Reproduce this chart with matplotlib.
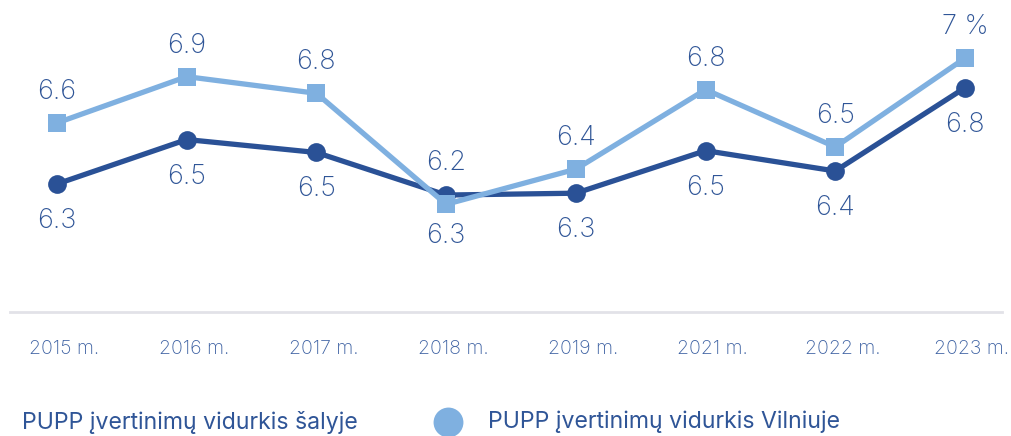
import matplotlib
matplotlib.use("Agg")
import matplotlib.pyplot as plt
from matplotlib.transforms import ScaledTranslation
from matplotlib.lines import Line2D

# --- data ---
years = ["2015 m.", "2016 m.", "2017 m.", "2018 m.", "2019 m.", "2021 m.", "2022 m.", "2023 m."]
salyje = [6.31, 6.55, 6.48, 6.25, 6.26, 6.49, 6.38, 6.83]
vilniuje = [6.64, 6.89, 6.80, 6.20, 6.39, 6.82, 6.51, 6.99]
salyje_labels = ["6.3", "6.5", "6.5", "6.2", "6.3", "6.5", "6.4", "6.8"]
vilniuje_labels = ["6.6", "6.9", "6.8", "6.3", "6.4", "6.8", "6.5", "7 %"]
legend_names = ["PUPP įvertinimų vidurkis šalyje", "PUPP įvertinimų vidurkis Vilniuje"]

DARK = "#2a5196"
LIGHT = "#7fb0e0"
TEXT = "#2f5597"
FONT = ["Inter", "DejaVu Sans"]

plt.rcParams["font.family"] = FONT

W, H = 1011, 436
fig = plt.figure(figsize=(W / 100, H / 100), dpi=100)
ax = fig.add_axes([10 / W, (H - 312.3) / H, 992 / W, 312.3 / H])

x = list(range(len(years)))
ax.plot(x, salyje, color=DARK, lw=3.8, marker="o", ms=13.5, mew=0, zorder=3)
ax.plot(x, vilniuje, color=LIGHT, lw=3.8, marker="s", ms=12.7, mew=0, zorder=4)

# labels: light series above unless it dips below the dark one
for i in x:
    light_up = vilniuje[i] >= salyje[i]
    ax.annotate(vilniuje_labels[i], (i, vilniuje[i]), textcoords="offset pixels",
                xytext=(0, 31 if light_up else -32), ha="center", va="center",
                fontsize=19.5, color=TEXT, fontweight="light")
    ax.annotate(salyje_labels[i], (i, salyje[i]), textcoords="offset pixels",
                xytext=(0, -37 if light_up else 32), ha="center", va="center",
                fontsize=19.5, color=TEXT, fontweight="light")

ax.set_xlim(-47 / 129.7, 7 + 37 / 129.7)
ax.set_ylim(5.6162, 7.3043)
ax.set_xticks(x)
ax.set_xticklabels(years, fontsize=14, color="#3e62a3", fontweight="light")
ax.tick_params(axis="x", length=0, pad=20)
ax.set_yticks([])
for lbl in ax.get_xticklabels():
    lbl.set_transform(lbl.get_transform() + ScaledTranslation(7 / 100, 0, fig.dpi_scale_trans))

for s in ["top", "right", "left"]:
    ax.spines[s].set_visible(False)
ax.spines["bottom"].set_color("#e2e2e8")
ax.spines["bottom"].set_linewidth(2)

# legend drawn by hand (first marker sits off the canvas in the original)
fig.text(22 / W, 1 - 422 / H, legend_names[0], fontsize=16.6, color=TEXT, va="center", ha="left")
fig.add_artist(Line2D([448 / W], [1 - 421.7 / H], marker="o", ms=21.5, mew=0,
                      color=LIGHT, transform=fig.transFigure))
fig.text(488 / W, 1 - 422 / H, legend_names[1], fontsize=16.6, color=TEXT, va="center", ha="left")

fig.savefig("out.png", dpi=100)
